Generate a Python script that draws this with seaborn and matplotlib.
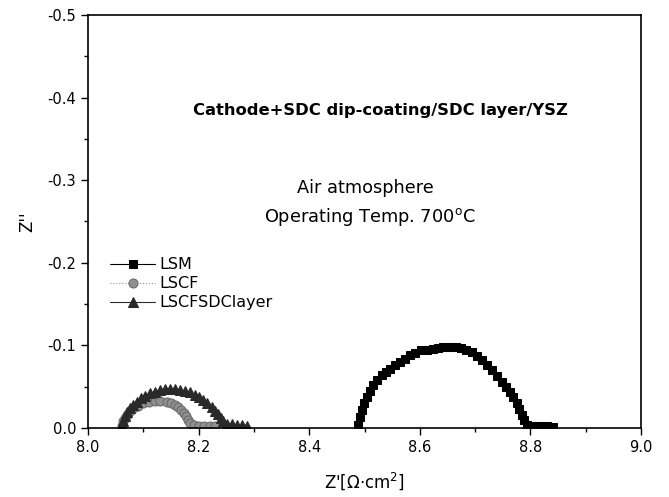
import numpy as np
import pandas as pd
import matplotlib
matplotlib.use("Agg")
import matplotlib.pyplot as plt
import seaborn as sns
from matplotlib.ticker import MultipleLocator

# Values (Z' in ohm*cm2, Z'' negative)
lsm_x = [8.488, 8.492, 8.495, 8.499, 8.504, 8.510, 8.516, 8.523, 8.531, 8.538, 8.546, 8.555,
         8.564, 8.573, 8.582, 8.592, 8.603, 8.613, 8.624, 8.633, 8.642, 8.650, 8.657, 8.666,
         8.675, 8.684, 8.694, 8.703, 8.712, 8.721, 8.730, 8.739, 8.748, 8.756, 8.763, 8.769,
         8.775, 8.780, 8.784, 8.789, 8.793, 8.800, 8.810, 8.820, 8.830, 8.840]
lsm_y = [-0.004, -0.013, -0.022, -0.030, -0.038, -0.045, -0.052, -0.058, -0.064, -0.068, -0.072, -0.076,
         -0.080, -0.084, -0.088, -0.091, -0.094, -0.095, -0.096, -0.097, -0.098, -0.098, -0.0985, -0.098,
         -0.097, -0.095, -0.092, -0.087, -0.082, -0.076, -0.070, -0.063, -0.056, -0.050, -0.044, -0.037,
         -0.030, -0.023, -0.016, -0.010, -0.004, -0.003, -0.003, -0.002, -0.002, -0.001]

lscf_x = [8.061, 8.064, 8.067, 8.070, 8.076, 8.082, 8.090, 8.100, 8.110, 8.121, 8.131, 8.142,
          8.150, 8.157, 8.163, 8.169, 8.174, 8.178, 8.181, 8.184, 8.192, 8.200, 8.210, 8.220, 8.230]
lscf_y = [-0.003, -0.008, -0.012, -0.016, -0.020, -0.024, -0.027, -0.030, -0.032, -0.033, -0.033, -0.032,
          -0.030, -0.028, -0.025, -0.022, -0.018, -0.014, -0.010, -0.006, -0.004, -0.003, -0.003, -0.002, -0.002]

layer_x = [8.061, 8.064, 8.067, 8.071, 8.076, 8.082, 8.088, 8.095, 8.103, 8.112, 8.121, 8.130,
           8.139, 8.148, 8.157, 8.166, 8.175, 8.184, 8.193, 8.201, 8.208, 8.216, 8.224, 8.230,
           8.236, 8.241, 8.245, 8.251, 8.260, 8.269, 8.278, 8.287]
layer_y = [-0.003, -0.009, -0.014, -0.019, -0.024, -0.028, -0.032, -0.036, -0.039, -0.042, -0.044, -0.046,
           -0.047, -0.047, -0.047, -0.046, -0.045, -0.043, -0.040, -0.037, -0.034, -0.030, -0.026, -0.021,
           -0.017, -0.012, -0.008, -0.005, -0.005, -0.004, -0.004, -0.003]

sns.set_style("ticks")
plt.rcParams['font.family'] = ['DejaVu Sans']
plt.rcParams['axes.unicode_minus'] = False
plt.rcParams['mathtext.fontset'] = 'dejavusans'
plt.rcParams['text.color'] = 'black'
plt.rcParams['axes.labelcolor'] = 'black'

fig = plt.figure(figsize=(6.69, 4.97), dpi=100)
ax = fig.add_axes([0.1315, 0.1388, 0.8267, 0.8312])

sns.lineplot(x=lsm_x, y=lsm_y, ax=ax, sort=False, estimator=None, color='black', lw=0.8,
             marker='s', markersize=5.5, markeredgecolor='black', label='LSM')
sns.lineplot(x=lscf_x, y=lscf_y, ax=ax, sort=False, estimator=None, color='#909090', lw=0.8,
             linestyle=':', marker='o', markersize=6.5, markeredgecolor='#6a6a6a', label='LSCF')
sns.lineplot(x=layer_x, y=layer_y, ax=ax, sort=False, estimator=None, color='#2a2a2a', lw=0.8,
             marker='^', markersize=7.5, markeredgecolor='#2a2a2a', label='LSCFSDClayer')

ax.set_xlim(8.0, 9.0)
ax.set_ylim(0.0, -0.5)
ax.xaxis.set_major_locator(MultipleLocator(0.2))
ax.xaxis.set_minor_locator(MultipleLocator(0.1))
ax.yaxis.set_major_locator(MultipleLocator(0.1))
ax.yaxis.set_minor_locator(MultipleLocator(0.05))
ax.xaxis.set_major_formatter(plt.FormatStrFormatter('%.1f'))
ax.yaxis.set_major_formatter(plt.FormatStrFormatter('%.1f'))
ax.tick_params(which='major', direction='out', length=5, width=1, labelsize=10.5,
               colors='black', labelcolor='black')
ax.tick_params(which='minor', direction='out', length=3, width=1, colors='black')
for s in ax.spines.values():
    s.set_linewidth(1.2)
    s.set_color('black')

ax.set_xlabel("Z'[$\\Omega$$\\cdot$cm$^2$]", fontsize=12, labelpad=11)
ax.set_ylabel("Z''", fontsize=12, labelpad=8)

ax.text(0.528, 0.768, 'Cathode+SDC dip-coating/SDC layer/YSZ', transform=ax.transAxes,
        fontsize=11.8, fontweight='bold', ha='center', va='center', color='black')
ax.text(0.501, 0.581, 'Air atmosphere', transform=ax.transAxes, fontsize=12.8,
        ha='center', va='center', color='black')
ax.text(0.51, 0.511, 'Operating Temp. 700$^\\mathrm{o}$C', transform=ax.transAxes, fontsize=12.8,
        ha='center', va='center', color='black')

ax.legend(loc='upper left', bbox_to_anchor=(0.02, 0.44), frameon=False, fontsize=11.5,
          handlelength=2.8, handletextpad=0.3, labelspacing=0.25, borderaxespad=0.3)

fig.savefig('out.png', dpi=100)
